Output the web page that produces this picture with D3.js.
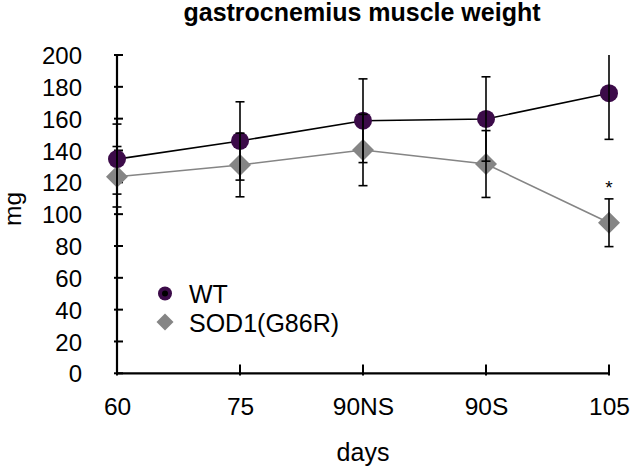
<!DOCTYPE html>
<html>
<head>
<meta charset="utf-8">
<script src="https://cdn.jsdelivr.net/npm/d3@7/dist/d3.min.js"></script>
<style>
  html, body { margin: 0; padding: 0; background: #fff; }
  text { font-family: "Liberation Sans", Arial, Helvetica, sans-serif; fill: #000; }
</style>
</head>
<body>
<svg id="chart" width="630" height="469"></svg>
<script>
const categories = ["60", "75", "90NS", "90S", "105"];
const wtMean = [134.6, 146, 158.7, 159.8, 176];
const wtErr  = [22, 24.6, 26.3, 26.5, 29];
const sodMean = [123.5, 130.9, 140.3, 131.5, 94.6];
const sodErr  = [19, 20, 22.4, 21, 15];
const yTicks = [0, 20, 40, 60, 80, 100, 120, 140, 160, 180, 200];
const seriesNames = ["WT", "SOD1(G86R)"];
const significant = ["105"];

const svg = d3.select("#chart");
const x = d3.scalePoint().domain(categories).range([117, 609]);
const y = d3.scaleLinear().domain([0, 200]).range([373.3, 55]);
const clampY = v => y(Math.max(0, Math.min(200, v)));

const purple = "#3c0b49";
const gray = "#858585";

// title
svg.append("text").attr("x", 362).attr("y", 21).attr("text-anchor", "middle")
  .style("font-size", "25px").style("font-weight", "bold").text("gastrocnemius muscle weight");

// axes
const yAxis = d3.axisLeft(y).tickValues(yTicks).tickSize(0).tickPadding(35);
const gy = svg.append("g").attr("transform", "translate(117,0)").call(yAxis);
gy.select(".domain").remove();
gy.selectAll("text").style("font-size", "24px").attr("dy", "0.36em");
svg.append("g").selectAll("line").data(yTicks).join("line")
  .attr("x1", 114).attr("x2", 123).attr("y1", d => y(d)).attr("y2", d => y(d))
  .attr("stroke", "#000").attr("stroke-width", 2);
svg.append("line").attr("x1", 117).attr("x2", 117).attr("y1", y(200)).attr("y2", y(0))
  .attr("stroke", "#000").attr("stroke-width", 2.2);

const xAxis = d3.axisBottom(x).tickSize(0).tickPadding(0);
const gx = svg.append("g").attr("transform", "translate(0,373.3)").call(xAxis);
gx.select(".domain").remove();
gx.selectAll("text").style("font-size", "24.5px").attr("y", 42).attr("dy", 0);
svg.append("g").selectAll("line").data(categories).join("line")
  .attr("x1", d => x(d)).attr("x2", d => x(d)).attr("y1", 364.5).attr("y2", 375.5)
  .attr("stroke", "#000").attr("stroke-width", 2);
svg.append("line").attr("x1", 116).attr("x2", 610).attr("y1", y(0)).attr("y2", y(0))
  .attr("stroke", "#000").attr("stroke-width", 2.2);

// axis titles
svg.append("text").attr("transform", "translate(21,209) rotate(-90)").attr("text-anchor", "middle")
  .style("font-size", "24.5px").text("mg");
svg.append("text").attr("x", 363).attr("y", 461).attr("text-anchor", "middle")
  .style("font-size", "25px").text("days");

// lines
const line = d3.line().x((d, i) => x(categories[i])).y(d => y(d));
svg.append("path").datum(sodMean).attr("d", line).attr("fill", "none")
  .attr("stroke", gray).attr("stroke-width", 1.6);
svg.append("path").datum(wtMean).attr("d", line).attr("fill", "none")
  .attr("stroke", "#000").attr("stroke-width", 1.6);

// markers
const diamond = (cx, cy, h) => `M${cx},${cy - h}L${cx + h},${cy}L${cx},${cy + h}L${cx - h},${cy}Z`;
svg.append("g").selectAll("path").data(sodMean).join("path")
  .attr("d", (d, i) => diamond(x(categories[i]), y(d), 11)).attr("fill", gray);
svg.append("g").selectAll("circle").data(wtMean).join("circle")
  .attr("cx", (d, i) => x(categories[i])).attr("cy", d => y(d)).attr("r", 9).attr("fill", purple);

// error bars
function errorBars(means, errs) {
  const g = svg.append("g").attr("stroke", "#000").attr("stroke-width", 1.6);
  means.forEach((m, i) => {
    const cx = x(categories[i]);
    const top = m + errs[i], bot = m - errs[i];
    g.append("line").attr("x1", cx).attr("x2", cx).attr("y1", clampY(top)).attr("y2", clampY(bot));
    if (top <= 200) g.append("line").attr("x1", cx - 4.5).attr("x2", cx + 4.5).attr("y1", y(top)).attr("y2", y(top));
    if (bot >= 0) g.append("line").attr("x1", cx - 4.5).attr("x2", cx + 4.5).attr("y1", y(bot)).attr("y2", y(bot));
  });
}
errorBars(sodMean, sodErr);
errorBars(wtMean, wtErr);

// significance
significant.forEach(c => {
  const i = categories.indexOf(c);
  svg.append("text").attr("x", x(c)).attr("y", y(sodMean[i] + sodErr[i]) - 5)
    .attr("text-anchor", "middle").style("font-size", "19px").text("*");
});

// legend
const lg = svg.append("g");
lg.append("circle").attr("cx", 165).attr("cy", 293.5).attr("r", 7).attr("fill", purple);
lg.append("circle").attr("cx", 165).attr("cy", 293.5).attr("r", 3).attr("fill", "#000");
lg.append("text").attr("x", 189).attr("y", 303).style("font-size", "25px").text(seriesNames[0]);
lg.append("path").attr("d", diamond(165, 322, 8.5)).attr("fill", gray);
lg.append("text").attr("x", 189).attr("y", 332).style("font-size", "25px").text(seriesNames[1]);
</script>
</body>
</html>
